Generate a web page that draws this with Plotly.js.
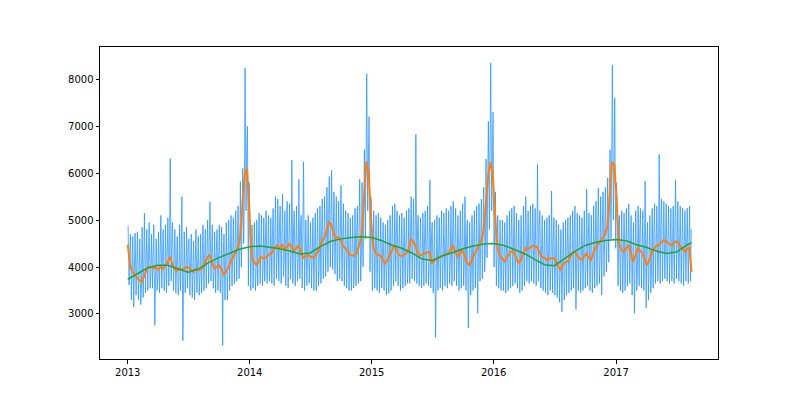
<!DOCTYPE html>
<html>
<head>
<meta charset="utf-8">
<script src="https://cdn.plot.ly/plotly-3.0.1.min.js"></script>
<style>
html, body { margin: 0; padding: 0; background: #fff; }
#chart { width: 800px; height: 404px; }
</style>
</head>
<body>
<div id="chart"></div>
<script>
// weekly rolling mean (orange), one value per week from 2013-01-01
var orangeWeekly = [
  4480, 4050, 3900, 3830, 3780, 3720, 3680, 3800, 3950, 4010,
  4000, 3970, 3990, 3940, 4000, 3960, 4020, 4100, 4220, 4060,
  3950, 3920, 3980, 3940, 3960, 4000, 3990, 3940, 3900, 3960,
  3930, 3950, 3980, 4080, 4200, 4250, 4100, 3970, 4000, 4040,
  3960, 3840, 3900, 3980, 4110, 4200, 4300, 4400, 4600, 5400,
  6000, 6100, 5000, 4200, 4100, 4050, 4120, 4220, 4180, 4200,
  4250, 4300, 4330, 4420, 4460, 4400, 4470, 4380, 4420, 4500,
  4420, 4340, 4400, 4460, 4350, 4190, 4230, 4250, 4220, 4200,
  4220, 4300, 4400, 4540, 4620, 4780, 4960, 4900, 4700, 4610,
  4640, 4580, 4450, 4400, 4320, 4260, 4240, 4260, 4300, 4470,
  4700, 5500, 6250, 6000, 5000, 4400, 4300, 4260, 4250, 4150,
  4080, 4150, 4250, 4350, 4470, 4350, 4250, 4230, 4260, 4290,
  4350, 4600, 4550, 4450, 4300, 4250, 4270, 4290, 4320, 4330,
  4080, 4130, 4180, 4200, 4220, 4250, 4280, 4290, 4380, 4470,
  4330, 4220, 4280, 4360, 4250, 4100, 4040, 4150, 4260, 4350,
  4450, 4540, 4750, 5300, 5900, 6240, 6000, 5100, 4400, 4250,
  4180, 4120, 4200, 4280, 4330, 4330, 4200, 4080, 4150, 4300,
  4400, 4380, 4420, 4450, 4430, 4430, 4300, 4220, 4200, 4150,
  4180, 4190, 4185, 4150, 4000, 3940, 4050, 4100, 4120, 4200,
  4300, 4330, 4250, 4180, 4150, 4220, 4290, 4200, 4150, 4300,
  4420, 4480, 4550, 4640, 4700, 4850, 5500, 6240, 6170, 5300,
  4500, 4360, 4330, 4400, 4470, 4300, 4110, 4250, 4400, 4350,
  4290, 4150, 4040, 4150, 4330, 4400, 4450, 4470, 4520, 4570,
  4550, 4500, 4470, 4480, 4540, 4540, 4450, 4400, 4330, 4380,
  4430, 3900
];

// daily sales, read as three levels per week: high, low, middle
var blueHigh = [
  4880, 4700, 4650, 4720, 4750, 4600, 4850, 5150, 4800, 4950,
  4700, 4900, 4600, 4750, 5100, 4800, 4900, 5050, 6310, 4950,
  4800, 4650, 4900, 5500, 4750, 4850, 4600, 4700, 4550, 4800,
  4650, 4700, 4900, 4800, 5000, 5390, 4900, 4750, 4800, 4900,
  4850, 4700, 4950, 5000, 5100, 5050, 5200, 5300, 5820, 6100,
  8240, 7000, 5200, 4900, 4950, 5000, 5150, 5100, 5050, 5200,
  5100, 5050, 5250, 5500, 5450, 5300, 5550, 5200, 5400, 5350,
  6280, 5200, 5300, 5870, 5100, 6240, 5000, 5100, 4950, 5050,
  5150, 5250, 5300, 5450, 5500, 5700, 5930, 6060, 5600, 5500,
  5400, 5740, 5350, 5200, 5150, 5050, 5100, 5250, 5300, 5870,
  5800, 6500, 8120, 7200, 5400, 5200, 5100, 5150, 5050, 4950,
  4900, 5000, 5100, 5300, 5350, 5200, 5100, 5150, 5050, 5200,
  5250, 5500, 5450, 6830, 5100, 5050, 5150, 5200, 5300, 5850,
  4950, 5000, 5100, 5050, 5200, 5150, 5250, 5200, 5300, 5400,
  5250, 5100, 5200, 5350, 5500, 5000, 4950, 5100, 5200, 5300,
  5350, 5450, 5700, 6300, 7100, 8350, 7300, 5600, 5100, 5000,
  5000, 4950, 5100, 5200, 5250, 5300, 5150, 5000, 5100, 5300,
  5500, 5200, 5300, 5350, 5250, 6185, 5200, 5100, 5000, 5050,
  5100, 5620, 5050, 5000, 4900, 4800, 4950, 5000, 5050, 5100,
  5200, 5300, 5150, 5100, 5050, 5200, 5660, 5150, 5100, 5300,
  5400, 5680, 5500, 5600, 5700, 5900, 6500, 8300, 7600, 5500,
  5100, 5200, 5150, 5250, 5350, 5100, 4950, 5200, 5300, 5250,
  5200, 5830, 4950, 5100, 5250, 5350, 5300, 6400, 5450, 5400,
  5350, 5300, 5250, 5300, 5850, 5400, 5300, 5250, 5200, 5250,
  5300
];
var blueLow = [
  3620, 3300, 3150, 3400, 3300, 3200, 3350, 3450, 3500, 3550,
  3550, 2760, 3500, 3450, 3550, 3500, 3450, 3600, 3700, 3500,
  3450, 3400, 3500, 2430, 3450, 3550, 3400, 3350, 3300, 3450,
  3400, 3450, 3500, 3550, 3650, 3700, 3550, 3450, 3500, 3450,
  2330, 3300, 3300, 3500, 3600, 3650, 3700, 3750, 4000, 4500,
  5200, 3600, 3500, 3550, 3500, 3600, 3650, 3600, 3700, 3650,
  3700, 3650, 3600, 3750, 3700, 3650, 3800, 3600, 3550, 3750,
  3650, 3600, 3700, 3750, 3550, 3500, 3600, 3650, 3550, 3500,
  3500, 3600, 3650, 3750, 3800, 3900, 4000, 3950, 3850, 3700,
  3750, 3700, 3600, 3550, 3500, 3500, 3550, 3600, 3650, 3700,
  4000, 4600, 5200, 3900, 3500, 3550, 3500, 3450, 3550, 3500,
  3400, 3440, 3500, 3600, 3700, 3600, 3500, 3550, 3600, 3650,
  3650, 3750, 3700, 3650, 3600, 3550, 3600, 3650, 3600, 3550,
  3450, 2500, 3500, 3550, 3500, 3600, 3550, 3650, 3600, 3700,
  3600, 3500, 3550, 3600, 3500, 2700, 3400, 3500, 3550, 3015,
  3700, 3750, 3900, 4200, 4800, 5200, 4000, 3600, 3550, 3500,
  3500, 3450, 3500, 3550, 3600, 3650, 3550, 3450, 3500, 3600,
  3700, 3650, 3700, 3650, 3600, 3700, 3550, 3500, 3450, 3400,
  3500, 3450, 3400, 3350, 3250, 3050, 3300, 3400, 3450, 3500,
  3550, 3100, 3500, 3450, 3500, 3550, 3600, 3500, 3450, 3550,
  3600, 3650, 3400, 3800, 3900, 4100, 4600, 5000, 4400, 3600,
  3500, 3450, 3500, 3600, 3650, 3400, 3015, 3500, 3600, 3550,
  3500, 3130, 3300, 3450, 3550, 3650, 3700, 3650, 3700, 3750,
  3700, 3650, 3700, 3650, 3750, 3700, 3650, 3600, 3700, 3650,
  3700
];
var blueMid = [
  4200, 4300, 3700, 4100, 4350, 3600, 4050, 4200, 4400, 3900,
  4300, 4400, 3800, 4250, 4500, 3750, 4200, 4450, 4600, 4100,
  4250, 3700, 4350, 4200, 3800, 4400, 4300, 3750, 4150, 4300,
  3800, 4250, 4400, 4100, 4500, 4600, 3900, 4300, 4250, 3850,
  4300, 4100, 4200, 4450, 4100, 4600, 4700, 4300, 5000, 5600,
  6500, 5800, 4300, 4500, 3900, 4500, 4600, 4000, 4550, 4650,
  4100, 4700, 4800, 4200, 4850, 4750, 4150, 4800, 4700, 4250,
  4800, 4700, 4100, 4850, 4650, 4000, 4600, 4550, 4050, 4500,
  4550, 4100, 4750, 4900, 4400, 5100, 5300, 4700, 5050, 4950,
  4400, 5000, 4800, 4200, 4700, 4650, 4000, 4700, 4750, 4300,
  5100, 5900, 6800, 5500, 4300, 4700, 4650, 4100, 4600, 4550,
  3950, 4500, 4600, 4150, 4800, 4700, 4100, 4650, 4600, 4100,
  4700, 5000, 4400, 4800, 4700, 4050, 4600, 4700, 4150, 4700,
  4400, 3900, 4550, 4500, 4050, 4600, 4650, 4100, 4700, 4800,
  4200, 4600, 4650, 4100, 4700, 4400, 3900, 4500, 4600, 4050,
  4800, 4900, 4400, 5800, 6500, 6800, 5400, 4600, 4700, 4100,
  4500, 4500, 3950, 4600, 4700, 4150, 4600, 4400, 3950, 4650,
  4750, 4200, 4800, 4800, 4250, 4900, 4650, 4100, 4550, 4500,
  4000, 4550, 4550, 3950, 4350, 4300, 3800, 4450, 4450, 3950,
  4650, 4700, 4100, 4550, 4500, 4000, 4650, 4550, 4000, 4650,
  4800, 4200, 4900, 5000, 4500, 5300, 6000, 6900, 5800, 4700,
  4850, 4200, 4700, 4750, 4150, 4650, 4450, 3950, 4750, 4700,
  4150, 4500, 4400, 3900, 4700, 4750, 4200, 4850, 4850, 4300,
  4900, 4850, 4250, 4850, 4900, 4300, 4800, 4750, 4200, 4750,
  4800
];

// long trend (green), one value per month from 2013-01
var greenMonthly = [
  3740, 3860, 3980, 4040, 4040, 3960, 3890, 3960, 4100, 4200,
  4300, 4380, 4430, 4450, 4420, 4390, 4340, 4280, 4300, 4440,
  4550, 4600, 4630, 4645, 4630, 4560, 4470, 4400, 4300, 4170,
  4140, 4240, 4310, 4390, 4450, 4490, 4500, 4460, 4380, 4290,
  4170, 4050, 4030, 4180, 4340, 4460, 4530, 4565, 4585, 4560,
  4480, 4420, 4340, 4290, 4320, 4470
];
var greenEnd = 4520;

var yearLabels = ['2013', '2014', '2015', '2016', '2017'];
var yTicks = [3000, 4000, 5000, 6000, 7000, 8000];

var t0 = Date.UTC(2013, 0, 1);
var lastDay = 1687; // 2017-08-15
function dayStr(d) {
  return new Date(t0 + Math.min(d, lastDay) * 86400000).toISOString().slice(0, 10);
}

var bx = [], by = [];
var nw = Math.min(blueHigh.length, blueLow.length, blueMid.length);
for (var w = 0; w < nw; w++) {
  bx.push(dayStr(7 * w + 1)); by.push(blueHigh[w]);
  bx.push(dayStr(7 * w + 4)); by.push(blueLow[w]);
  bx.push(dayStr(7 * w + 6)); by.push(blueMid[w]);
}

var ox = orangeWeekly.map(function (v, i) { return dayStr(7 * i); });

var gx = greenMonthly.map(function (v, i) {
  return new Date(Date.UTC(2013, i, 1)).toISOString().slice(0, 10);
});
var gy = greenMonthly.slice();
gx.push(dayStr(lastDay)); gy.push(greenEnd);

var data = [
  { x: bx, y: by, type: 'scatter', mode: 'lines',
    line: { color: 'rgba(30,144,255,0.72)', width: 1 } },
  { x: ox, y: orangeWeekly, type: 'scatter', mode: 'lines',
    line: { color: '#ff7f0e', width: 2 } },
  { x: gx, y: gy, type: 'scatter', mode: 'lines',
    line: { color: '#2ca02c', width: 1.5 } }
];

var axisStyle = {
  showline: true, mirror: true, linecolor: 'black', linewidth: 1,
  showgrid: false, zeroline: false,
  ticks: 'outside', ticklen: 3.5, tickwidth: 1, tickcolor: 'black',
  tickfont: { family: 'DejaVu Sans', size: 10, color: 'black' }
};

var layout = {
  width: 800, height: 404,
  margin: { l: 100, r: 82, t: 47, b: 45 },
  showlegend: false,
  paper_bgcolor: 'white', plot_bgcolor: 'white',
  xaxis: Object.assign({}, axisStyle, {
    type: 'date',
    range: ['2012-10-10', '2017-11-02'],
    tickvals: yearLabels.map(function (y) { return y + '-01-01'; }),
    ticktext: yearLabels
  }),
  yaxis: Object.assign({}, axisStyle, {
    range: [2041, 8688],
    tickvals: yTicks,
    ticktext: yTicks.map(String)
  })
};

Plotly.newPlot('chart', data, layout, { staticPlot: true });
</script>
</body>
</html>
